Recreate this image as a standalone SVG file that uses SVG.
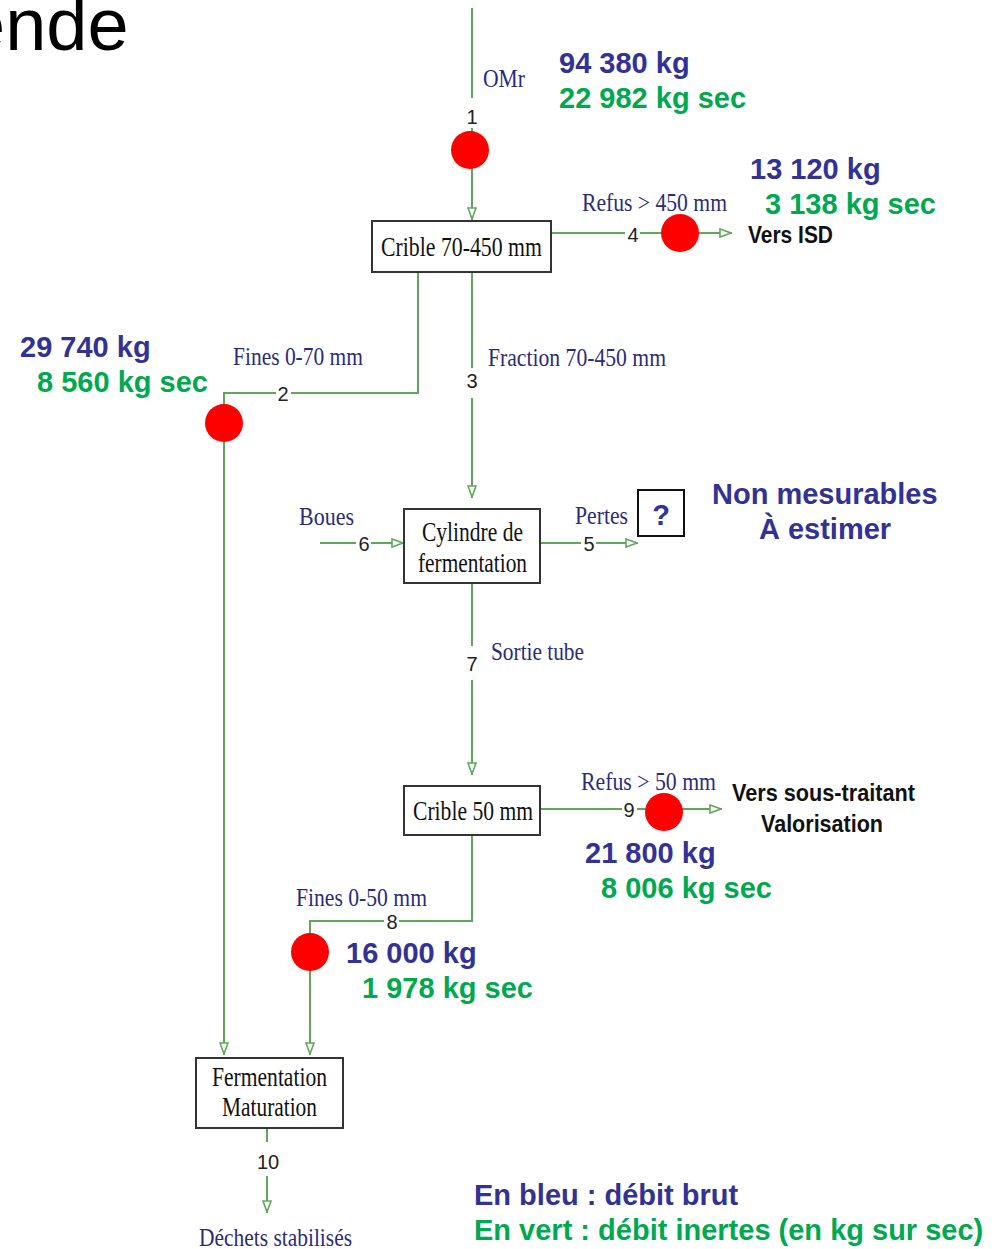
<svg xmlns="http://www.w3.org/2000/svg" width="998" height="1249" viewBox="0 0 998 1249">
  <style>
    .flow { fill: none; stroke: #5fa85a; stroke-width: 2; }
    .box { fill: #fff; stroke: #333; stroke-width: 2; }
    .boxtxt { font-family: "Liberation Serif", serif; font-size: 27px; fill: #111; }
    .lbl { font-family: "Liberation Serif", serif; font-size: 25px; fill: #2b2b7d; }
    .num { font-family: "Liberation Sans", sans-serif; font-size: 20px; fill: #222; text-anchor: middle; }
    .big { font-family: "Liberation Sans", sans-serif; font-size: 29px; font-weight: bold; }
    .blue { fill: #323296; }
    .green { fill: #00a950; }
    .dest { font-family: "Liberation Sans", sans-serif; font-size: 23px; font-weight: bold; fill: #111; }
    .pt { fill: #ff0000; }
    .gap { fill: #fff; }
  </style>
  <defs>
    <marker id="arr" viewBox="0 0 13 10" refX="13" refY="5" markerWidth="13" markerHeight="10" markerUnits="userSpaceOnUse" orient="auto">
      <path d="M1,1 L12,5 L1,9 Z" fill="#fff" stroke="#5fa85a" stroke-width="1.6"/>
    </marker>
  </defs>

  <!-- heading fragment -->
  <text x="-36" y="50" font-family="Liberation Sans, sans-serif" font-size="74" fill="#000">ende</text>

  <!-- connectors -->
  <g id="connectors">
    <path class="flow" d="M472 8 V220" marker-end="url(#arr)"/>
    <path class="flow" d="M551 233 H732" marker-end="url(#arr)"/>
    <path class="flow" d="M418 272 V393 H224 V1055" marker-end="url(#arr)"/>
    <path class="flow" d="M472 272 V498" marker-end="url(#arr)"/>
    <path class="flow" d="M320 543 H404" marker-end="url(#arr)"/>
    <path class="flow" d="M540 543 H638" marker-end="url(#arr)"/>
    <path class="flow" d="M472 583 V775" marker-end="url(#arr)"/>
    <path class="flow" d="M540 809 H722" marker-end="url(#arr)"/>
    <path class="flow" d="M472 835 V921 H310 V1055" marker-end="url(#arr)"/>
    <path class="flow" d="M267 1128 V1213" marker-end="url(#arr)"/>

    <!-- stream numbers -->
    <rect class="gap" x="464" y="98" width="16" height="30"/>
    <text class="num" x="472" y="124">1</text>
    <rect class="gap" x="276" y="383" width="15" height="20"/>
    <text class="num" x="283" y="401">2</text>
    <rect class="gap" x="464" y="368" width="16" height="30"/>
    <text class="num" x="472" y="388">3</text>
    <rect class="gap" x="625" y="223" width="15" height="20"/>
    <text class="num" x="633" y="242">4</text>
    <rect class="gap" x="581" y="533" width="15" height="20"/>
    <text class="num" x="589" y="551">5</text>
    <rect class="gap" x="356" y="533" width="15" height="20"/>
    <text class="num" x="364" y="551">6</text>
    <rect class="gap" x="464" y="646" width="16" height="34"/>
    <text class="num" x="472" y="671">7</text>
    <rect class="gap" x="384" y="911" width="15" height="20"/>
    <text class="num" x="392" y="929">8</text>
    <rect class="gap" x="622" y="799" width="15" height="20"/>
    <text class="num" x="629" y="817">9</text>
    <rect class="gap" x="256" y="1142" width="22" height="34"/>
    <text class="num" x="268" y="1169">10</text>

    <!-- stream labels -->
    <text class="lbl" x="483" y="87" textLength="42" lengthAdjust="spacingAndGlyphs">OMr</text>
    <text class="lbl" x="582" y="211" textLength="145" lengthAdjust="spacingAndGlyphs">Refus &gt; 450 mm</text>
    <text class="lbl" x="233" y="365" textLength="130" lengthAdjust="spacingAndGlyphs">Fines 0-70 mm</text>
    <text class="lbl" x="488" y="366" textLength="178" lengthAdjust="spacingAndGlyphs">Fraction 70-450 mm</text>
    <text class="lbl" x="299" y="525" textLength="55" lengthAdjust="spacingAndGlyphs">Boues</text>
    <text class="lbl" x="575" y="524" textLength="53" lengthAdjust="spacingAndGlyphs">Pertes</text>
    <text class="lbl" x="491" y="660" textLength="93" lengthAdjust="spacingAndGlyphs">Sortie tube</text>
    <text class="lbl" x="581" y="790" textLength="135" lengthAdjust="spacingAndGlyphs">Refus &gt; 50 mm</text>
    <text class="lbl" x="296" y="906" textLength="131" lengthAdjust="spacingAndGlyphs">Fines 0-50 mm</text>
    <text class="lbl" x="199" y="1246" textLength="153" lengthAdjust="spacingAndGlyphs">Déchets stabilisés</text>

    <!-- sampling points -->
    <circle class="pt" cx="470" cy="150" r="19"/>
    <circle class="pt" cx="680" cy="233" r="19"/>
    <circle class="pt" cx="224" cy="423" r="19"/>
    <circle class="pt" cx="664" cy="812" r="19"/>
    <circle class="pt" cx="310" cy="952" r="19"/>
  </g>

  <!-- process units -->
  <g id="crible-70-450">
    <rect class="box" x="372" y="221" width="179" height="51"/>
    <text class="boxtxt" x="381" y="256" textLength="161" lengthAdjust="spacingAndGlyphs">Crible 70-450 mm</text>
  </g>
  <g id="cylindre">
    <rect class="box" x="404" y="509" width="136" height="74"/>
    <text class="boxtxt" x="422" y="541" textLength="101" lengthAdjust="spacingAndGlyphs">Cylindre de</text>
    <text class="boxtxt" x="418" y="572" textLength="109" lengthAdjust="spacingAndGlyphs">fermentation</text>
  </g>
  <g id="pertes-inconnues">
    <rect x="638" y="490" width="46" height="46" fill="#fff" stroke="#111" stroke-width="2"/>
    <text class="big blue" x="661" y="525" text-anchor="middle">?</text>
  </g>
  <g id="crible-50">
    <rect class="box" x="404" y="786" width="136" height="49"/>
    <text class="boxtxt" x="413" y="820" textLength="120" lengthAdjust="spacingAndGlyphs">Crible 50 mm</text>
  </g>
  <g id="fermentation-maturation">
    <rect class="box" x="196" y="1058" width="147" height="70"/>
    <text class="boxtxt" x="212" y="1086" textLength="115" lengthAdjust="spacingAndGlyphs">Fermentation</text>
    <text class="boxtxt" x="222" y="1116" textLength="95" lengthAdjust="spacingAndGlyphs">Maturation</text>
  </g>

  <!-- destinations -->
  <g id="vers-isd">
    <text class="dest" x="748" y="243" textLength="85" lengthAdjust="spacingAndGlyphs">Vers ISD</text>
  </g>
  <g id="vers-sous-traitant">
    <text class="dest" x="732" y="801" textLength="183" lengthAdjust="spacingAndGlyphs">Vers sous-traitant</text>
    <text class="dest" x="761" y="832" textLength="122" lengthAdjust="spacingAndGlyphs">Valorisation</text>
  </g>

  <!-- measured flows -->
  <g id="flux">
    <text class="big blue" x="559" y="73">94 380 kg</text>
    <text class="big green" x="559" y="108">22 982 kg sec</text>
    <text class="big blue" x="750" y="179">13 120 kg</text>
    <text class="big green" x="765" y="214">3 138 kg sec</text>
    <text class="big blue" x="20" y="357">29 740 kg</text>
    <text class="big green" x="37" y="392">8 560 kg sec</text>
    <text class="big blue" x="712" y="504">Non mesurables</text>
    <text class="big blue" x="825" y="539" text-anchor="middle">À estimer</text>
    <text class="big blue" x="585" y="863">21 800 kg</text>
    <text class="big green" x="601" y="898">8 006 kg sec</text>
    <text class="big blue" x="346" y="963">16 000 kg</text>
    <text class="big green" x="362" y="998">1 978 kg sec</text>
  </g>

  <!-- legend -->
  <g id="legende">
    <text class="big blue" x="474" y="1205">En bleu : débit brut</text>
    <text class="big green" x="474" y="1240">En vert : débit inertes (en kg sur sec)</text>
  </g>
</svg>
